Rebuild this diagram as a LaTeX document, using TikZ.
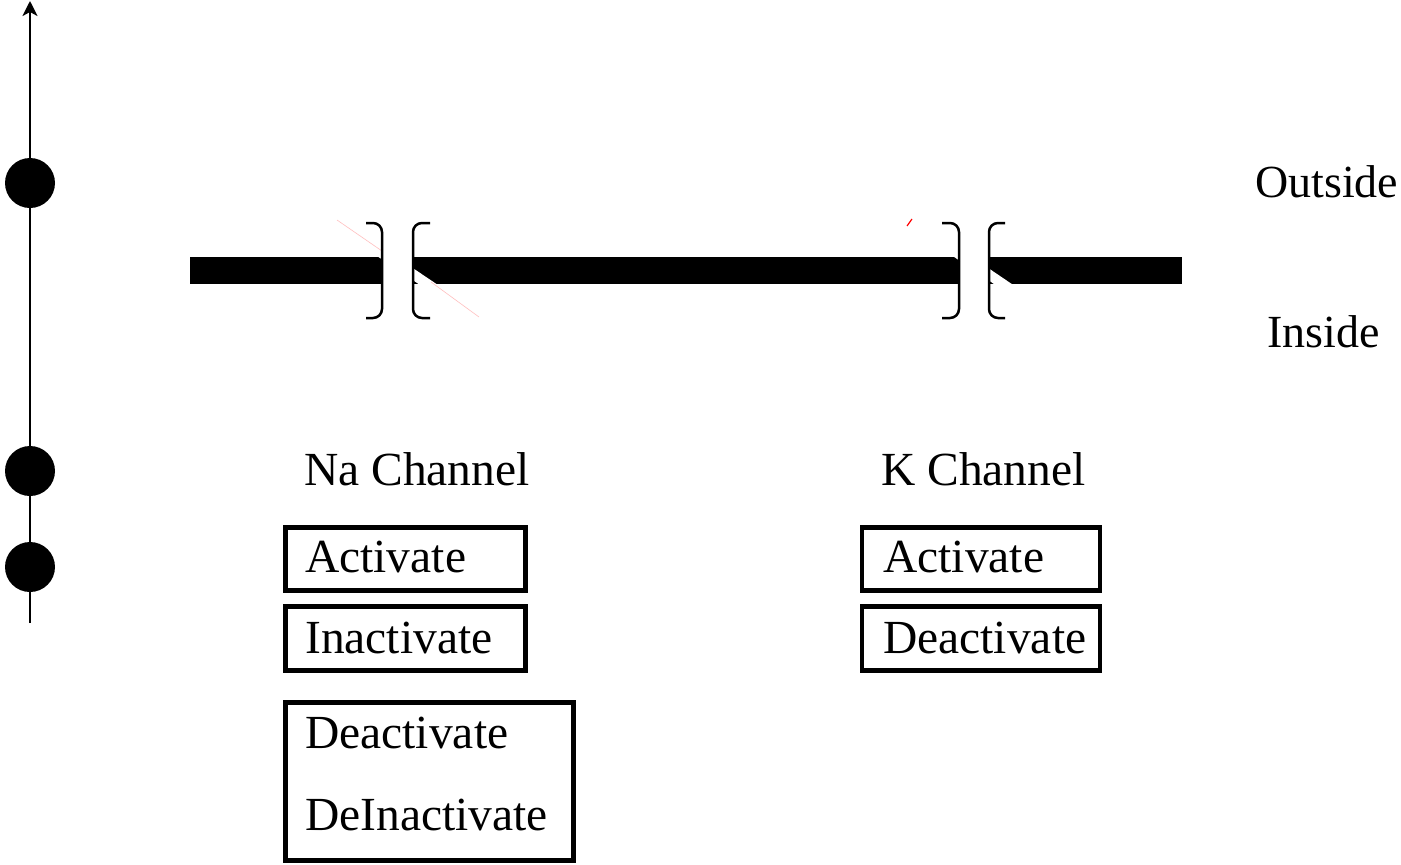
\documentclass[tikz,border=0pt]{standalone}
\usepackage{fontspec}
\setmainfont{Liberation Serif}
\usetikzlibrary{arrows.meta}
\begin{document}
\begin{tikzpicture}[x=1pt,y=-1pt,
  lbl/.style={inner sep=0pt, anchor=base west, font=\fontsize{47.5}{56}\selectfont},
  side/.style={inner sep=0pt, anchor=base west, font=\fontsize{46}{55}\selectfont},
  boxr/.style={draw, line width=4.5pt, inner sep=0pt, outer sep=0pt, anchor=north west},
  dot/.style={circle, fill=black, inner sep=0pt, minimum size=50pt},
  axis/.style={line width=2.5pt, -{Stealth[length=15pt,width=15pt,inset=4pt]}},
  brk/.style={line width=2.5pt, rounded corners=9pt},
  cut/.style={white, line width=10pt},
  trace/.style={red!25, line width=0.6pt}]
\useasboundingbox (0,0) rectangle (1401,865);
% axis with dots
\coordinate (axb) at (30,623);
\coordinate (axt) at (30,1);
\draw[axis] (axb) -- (axt);
\node[dot] (d1) at (30,183) {};
\node[dot] (d2) at (30,471) {};
\node[dot] (d3) at (30,567) {};
% membrane
\fill (190,257) rectangle (381,284);
\fill (413,257) rectangle (959,284);
\fill (989,257) rectangle (1182,284);
% channel cuts
\draw[cut] (334,221) -- (478,318);
\draw[cut] (910,221) -- (1053,318);
\draw[trace] (337,220) -- (382,251);
\draw[trace] (431,282) -- (479,317);
\draw[red, line width=1.2pt] (907,226) -- (912,219);
% brackets
\draw[brk] (366,223) -- (382,223) -- (382,318) -- (366,318);
\draw[brk] (430,223) -- (413,223) -- (413,318) -- (430,318);
\draw[brk] (942,223) -- (959,223) -- (959,318) -- (942,318);
\draw[brk] (1005,223) -- (989,223) -- (989,318) -- (1005,318);
% labels
\node[side] (outs) at (1255,197) {Outside};
\node[side] (ins) at (1267,347) {Inside};
\node[lbl] (naT) at (304,485) {Na Channel};
\node[lbl] (kT) at (881,485) {K Channel};
% boxes
\node[boxr, minimum width=240pt, minimum height=63pt] (nab1) at (285.5,527.5) {};
\node[boxr, minimum width=240pt, minimum height=64pt] (nab2) at (285.5,606.5) {};
\node[boxr, minimum width=288pt, minimum height=158pt] (nab3) at (285.5,702.5) {};
\node[boxr, minimum width=238pt, minimum height=63pt] (kb1) at (862,527.5) {};
\node[boxr, minimum width=238pt, minimum height=64pt] (kb2) at (862,606.5) {};
\node[lbl] (na1) at (305,572) {Activate};
\node[lbl] (na2) at (305,653) {Inactivate};
\node[lbl] (na3) at (305,748) {Deactivate};
\node[lbl] (na4) at (305,830) {DeInactivate};
\node[lbl] (k1) at (883,572) {Activate};
\node[lbl] (k2) at (883,653) {Deactivate};
\end{tikzpicture}
\end{document}
